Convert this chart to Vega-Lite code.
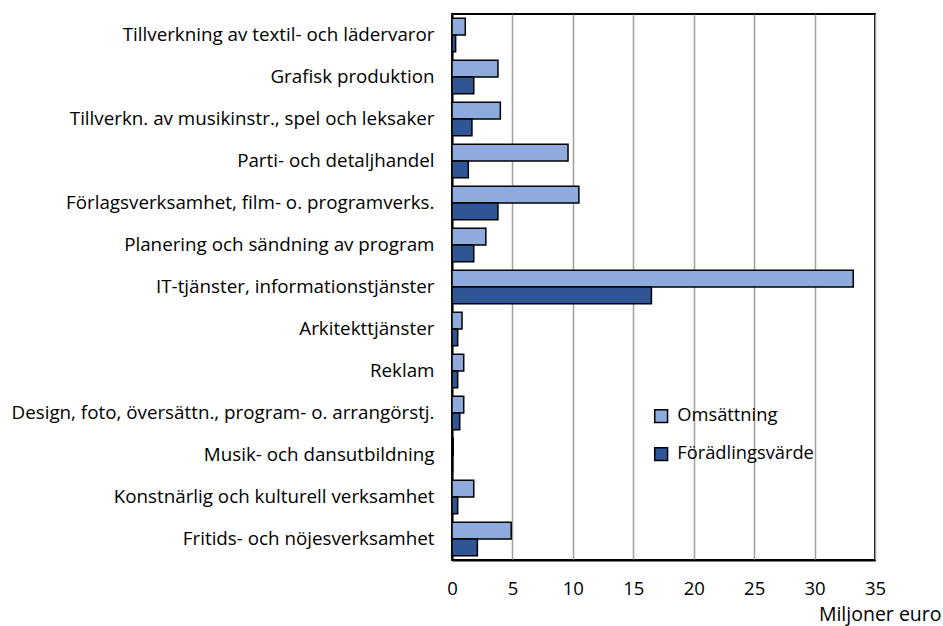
{
  "$schema": "https://vega.github.io/schema/vega-lite/v6.json",
  "width": 423,
  "height": 546,
  "autosize": "none",
  "padding": {"left": 452, "top": 14, "right": 68, "bottom": 66},
  "background": "white",
  "config": {
    "font": "Open Sans",
    "view": {"stroke": "black", "strokeWidth": 2}
  },
  "data": {
    "values": [
      {"ala": "Tillverkning av textil- och lädervaror", "serie": "Omsättning", "varde": 1.1},
      {"ala": "Tillverkning av textil- och lädervaror", "serie": "Förädlingsvärde", "varde": 0.3},
      {"ala": "Grafisk produktion", "serie": "Omsättning", "varde": 3.8},
      {"ala": "Grafisk produktion", "serie": "Förädlingsvärde", "varde": 1.8},
      {"ala": "Tillverkn. av musikinstr., spel och leksaker", "serie": "Omsättning", "varde": 4.0},
      {"ala": "Tillverkn. av musikinstr., spel och leksaker", "serie": "Förädlingsvärde", "varde": 1.65},
      {"ala": "Parti- och detaljhandel", "serie": "Omsättning", "varde": 9.6},
      {"ala": "Parti- och detaljhandel", "serie": "Förädlingsvärde", "varde": 1.35},
      {"ala": "Förlagsverksamhet, film- o. programverks.", "serie": "Omsättning", "varde": 10.5},
      {"ala": "Förlagsverksamhet, film- o. programverks.", "serie": "Förädlingsvärde", "varde": 3.8},
      {"ala": "Planering och sändning av program", "serie": "Omsättning", "varde": 2.8},
      {"ala": "Planering och sändning av program", "serie": "Förädlingsvärde", "varde": 1.8},
      {"ala": "IT-tjänster, informationstjänster", "serie": "Omsättning", "varde": 33.2},
      {"ala": "IT-tjänster, informationstjänster", "serie": "Förädlingsvärde", "varde": 16.5},
      {"ala": "Arkitekttjänster", "serie": "Omsättning", "varde": 0.83},
      {"ala": "Arkitekttjänster", "serie": "Förädlingsvärde", "varde": 0.47},
      {"ala": "Reklam", "serie": "Omsättning", "varde": 0.97},
      {"ala": "Reklam", "serie": "Förädlingsvärde", "varde": 0.47},
      {"ala": "Design, foto, översättn., program- o. arrangörstj.", "serie": "Omsättning", "varde": 0.97},
      {"ala": "Design, foto, översättn., program- o. arrangörstj.", "serie": "Förädlingsvärde", "varde": 0.64},
      {"ala": "Musik- och dansutbildning", "serie": "Omsättning", "varde": 0.1},
      {"ala": "Musik- och dansutbildning", "serie": "Förädlingsvärde", "varde": 0.05},
      {"ala": "Konstnärlig och kulturell verksamhet", "serie": "Omsättning", "varde": 1.8},
      {"ala": "Konstnärlig och kulturell verksamhet", "serie": "Förädlingsvärde", "varde": 0.47},
      {"ala": "Fritids- och nöjesverksamhet", "serie": "Omsättning", "varde": 4.9},
      {"ala": "Fritids- och nöjesverksamhet", "serie": "Förädlingsvärde", "varde": 2.1}
    ]
  },
  "mark": {"type": "bar", "stroke": "black", "strokeWidth": 1.5},
  "encoding": {
    "y": {
      "field": "ala",
      "type": "nominal",
      "sort": null,
      "scale": {"paddingInner": 0.2, "paddingOuter": 0.1},
      "axis": {
        "title": null,
        "ticks": false,
        "domainColor": "black",
        "domainWidth": 2,
        "labelFontSize": 18.8,
        "labelColor": "black",
        "labelPadding": 18,
        "labelLimit": 460
      }
    },
    "yOffset": {
      "field": "serie",
      "type": "nominal",
      "sort": ["Omsättning", "Förädlingsvärde"],
      "scale": {"paddingInner": 0, "paddingOuter": 0}
    },
    "x": {
      "field": "varde",
      "type": "quantitative",
      "scale": {"domain": [0, 35], "nice": false},
      "axis": {
        "values": [0, 5, 10, 15, 20, 25, 30, 35],
        "title": "Miljoner euro",
        "titleFontSize": 19.5,
        "titleFontWeight": "normal",
        "titleColor": "black",
        "titleAnchor": "end",
        "titleAlign": "right",
        "titleBaseline": "middle",
        "titleX": 489,
        "titleY": 54,
        "ticks": false,
        "labelFlush": false,
        "labelPadding": 19,
        "labelFontSize": 18.5,
        "labelColor": "black",
        "domainColor": "black",
        "domainWidth": 2,
        "grid": true,
        "gridColor": "#a0a0a0",
        "gridWidth": 1.5
      }
    },
    "color": {
      "field": "serie",
      "type": "nominal",
      "sort": ["Omsättning", "Förädlingsvärde"],
      "scale": {"domain": ["Omsättning", "Förädlingsvärde"], "range": ["#8FAADC", "#2F5597"]},
      "legend": {
        "title": null,
        "orient": "none",
        "legendX": 200,
        "legendY": 393,
        "symbolType": "square",
        "symbolSize": 165,
        "symbolStrokeColor": "black",
        "symbolStrokeWidth": 1.5,
        "labelFontSize": 18.3,
        "labelColor": "black",
        "rowPadding": 18,
        "labelOffset": 7
      }
    }
  }
}
